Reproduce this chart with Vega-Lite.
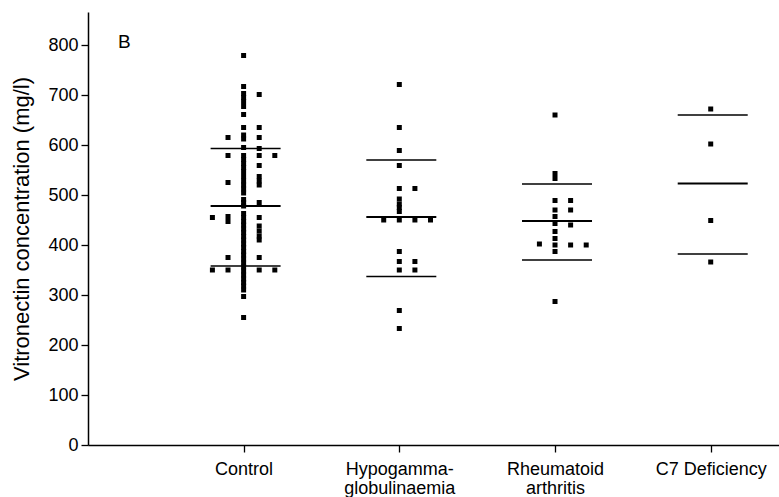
{
  "$schema": "https://vega.github.io/schema/vega-lite/v6.json",
  "width": 691,
  "height": 433,
  "autosize": "none",
  "padding": {"left": 88, "top": 12, "right": 0, "bottom": 52},
  "background": "white",
  "config": {
    "view": {"stroke": null},
    "font": "Liberation Sans",
    "axis": {"domainColor": "black", "tickColor": "black", "labelColor": "black", "titleColor": "black", "domainWidth": 1.5, "tickWidth": 1.3, "grid": false, "labelFont": "Liberation Sans", "titleFont": "Liberation Sans", "titleFontWeight": "normal"}
  },
  "title": {"text": "B", "anchor": "start", "frame": "group", "dx": 30, "offset": -40, "fontSize": 19, "fontWeight": "normal", "color": "black", "font": "Liberation Sans"},
  "datasets": {
    "pts": [
      {"group": "Control", "slot": 0, "value": 779}, {"group": "Control", "slot": 0, "value": 717}, {"group": "Control", "slot": 0, "value": 703}, {"group": "Control", "slot": 0, "value": 695}, {"group": "Control", "slot": 0, "value": 687}, {"group": "Control", "slot": 0, "value": 677}, {"group": "Control", "slot": 0, "value": 661}, {"group": "Control", "slot": 0, "value": 635}, {"group": "Control", "slot": 0, "value": 620}, {"group": "Control", "slot": 0, "value": 612}, {"group": "Control", "slot": 0, "value": 595}, {"group": "Control", "slot": 0, "value": 579}, {"group": "Control", "slot": 0, "value": 571}, {"group": "Control", "slot": 0, "value": 563}, {"group": "Control", "slot": 0, "value": 555}, {"group": "Control", "slot": 0, "value": 547}, {"group": "Control", "slot": 0, "value": 537}, {"group": "Control", "slot": 0, "value": 528}, {"group": "Control", "slot": 0, "value": 520}, {"group": "Control", "slot": 0, "value": 512}, {"group": "Control", "slot": 0, "value": 504}, {"group": "Control", "slot": 0, "value": 491}, {"group": "Control", "slot": 0, "value": 485}, {"group": "Control", "slot": 0, "value": 478}, {"group": "Control", "slot": 0, "value": 463}, {"group": "Control", "slot": 0, "value": 455}, {"group": "Control", "slot": 0, "value": 447}, {"group": "Control", "slot": 0, "value": 440}, {"group": "Control", "slot": 0, "value": 432}, {"group": "Control", "slot": 0, "value": 425}, {"group": "Control", "slot": 0, "value": 417}, {"group": "Control", "slot": 0, "value": 410}, {"group": "Control", "slot": 0, "value": 402}, {"group": "Control", "slot": 0, "value": 395}, {"group": "Control", "slot": 0, "value": 387}, {"group": "Control", "slot": 0, "value": 380}, {"group": "Control", "slot": 0, "value": 372}, {"group": "Control", "slot": 0, "value": 364}, {"group": "Control", "slot": 0, "value": 356}, {"group": "Control", "slot": 0, "value": 348}, {"group": "Control", "slot": 0, "value": 340}, {"group": "Control", "slot": 0, "value": 332}, {"group": "Control", "slot": 0, "value": 325}, {"group": "Control", "slot": 0, "value": 318}, {"group": "Control", "slot": 0, "value": 310}, {"group": "Control", "slot": 0, "value": 297}, {"group": "Control", "slot": 0, "value": 255},
      {"group": "Control", "slot": 1, "value": 701}, {"group": "Control", "slot": 1, "value": 635}, {"group": "Control", "slot": 1, "value": 615}, {"group": "Control", "slot": 1, "value": 593}, {"group": "Control", "slot": 1, "value": 579}, {"group": "Control", "slot": 1, "value": 559}, {"group": "Control", "slot": 1, "value": 537}, {"group": "Control", "slot": 1, "value": 528}, {"group": "Control", "slot": 1, "value": 520}, {"group": "Control", "slot": 1, "value": 485}, {"group": "Control", "slot": 1, "value": 455}, {"group": "Control", "slot": 1, "value": 438}, {"group": "Control", "slot": 1, "value": 428}, {"group": "Control", "slot": 1, "value": 418}, {"group": "Control", "slot": 1, "value": 410}, {"group": "Control", "slot": 1, "value": 375}, {"group": "Control", "slot": 1, "value": 350},
      {"group": "Control", "slot": -1, "value": 615}, {"group": "Control", "slot": -1, "value": 579}, {"group": "Control", "slot": -1, "value": 525}, {"group": "Control", "slot": -1, "value": 457}, {"group": "Control", "slot": -1, "value": 447}, {"group": "Control", "slot": -1, "value": 375}, {"group": "Control", "slot": -1, "value": 350},
      {"group": "Control", "slot": -2, "value": 455}, {"group": "Control", "slot": -2, "value": 350},
      {"group": "Control", "slot": 2, "value": 579}, {"group": "Control", "slot": 2, "value": 350},
      {"group": "Hypogamma-globulinaemia", "slot": 0, "value": 721}, {"group": "Hypogamma-globulinaemia", "slot": 0, "value": 635}, {"group": "Hypogamma-globulinaemia", "slot": 0, "value": 589}, {"group": "Hypogamma-globulinaemia", "slot": 0, "value": 559}, {"group": "Hypogamma-globulinaemia", "slot": 0, "value": 513}, {"group": "Hypogamma-globulinaemia", "slot": 0, "value": 492}, {"group": "Hypogamma-globulinaemia", "slot": 0, "value": 482}, {"group": "Hypogamma-globulinaemia", "slot": 0, "value": 475}, {"group": "Hypogamma-globulinaemia", "slot": 0, "value": 467}, {"group": "Hypogamma-globulinaemia", "slot": 0, "value": 450}, {"group": "Hypogamma-globulinaemia", "slot": 0, "value": 387}, {"group": "Hypogamma-globulinaemia", "slot": 0, "value": 367}, {"group": "Hypogamma-globulinaemia", "slot": 0, "value": 350}, {"group": "Hypogamma-globulinaemia", "slot": 0, "value": 269}, {"group": "Hypogamma-globulinaemia", "slot": 0, "value": 233},
      {"group": "Hypogamma-globulinaemia", "slot": 1, "value": 513}, {"group": "Hypogamma-globulinaemia", "slot": 1, "value": 450}, {"group": "Hypogamma-globulinaemia", "slot": 1, "value": 367}, {"group": "Hypogamma-globulinaemia", "slot": 1, "value": 350},
      {"group": "Hypogamma-globulinaemia", "slot": -1, "value": 450}, {"group": "Hypogamma-globulinaemia", "slot": 2, "value": 450},
      {"group": "Rheumatoid arthritis", "slot": 0, "value": 660}, {"group": "Rheumatoid arthritis", "slot": 0, "value": 543}, {"group": "Rheumatoid arthritis", "slot": 0, "value": 533}, {"group": "Rheumatoid arthritis", "slot": 0, "value": 489}, {"group": "Rheumatoid arthritis", "slot": 0, "value": 470}, {"group": "Rheumatoid arthritis", "slot": 0, "value": 457}, {"group": "Rheumatoid arthritis", "slot": 0, "value": 443}, {"group": "Rheumatoid arthritis", "slot": 0, "value": 427}, {"group": "Rheumatoid arthritis", "slot": 0, "value": 413}, {"group": "Rheumatoid arthritis", "slot": 0, "value": 400}, {"group": "Rheumatoid arthritis", "slot": 0, "value": 387}, {"group": "Rheumatoid arthritis", "slot": 0, "value": 287},
      {"group": "Rheumatoid arthritis", "slot": 1, "value": 489}, {"group": "Rheumatoid arthritis", "slot": 1, "value": 470}, {"group": "Rheumatoid arthritis", "slot": 1, "value": 440}, {"group": "Rheumatoid arthritis", "slot": 1, "value": 400},
      {"group": "Rheumatoid arthritis", "slot": -1, "value": 402}, {"group": "Rheumatoid arthritis", "slot": 2, "value": 400},
      {"group": "C7 Deficiency", "slot": 0, "value": 672}, {"group": "C7 Deficiency", "slot": 0, "value": 602}, {"group": "C7 Deficiency", "slot": 0, "value": 449}, {"group": "C7 Deficiency", "slot": 0, "value": 366}
    ],
    "lines": [
      {"group": "Control", "kind": "sd", "value": 593}, {"group": "Control", "kind": "mean", "value": 478}, {"group": "Control", "kind": "sd", "value": 358},
      {"group": "Hypogamma-globulinaemia", "kind": "sd", "value": 570}, {"group": "Hypogamma-globulinaemia", "kind": "mean", "value": 456}, {"group": "Hypogamma-globulinaemia", "kind": "sd", "value": 337},
      {"group": "Rheumatoid arthritis", "kind": "sd", "value": 522}, {"group": "Rheumatoid arthritis", "kind": "mean", "value": 448}, {"group": "Rheumatoid arthritis", "kind": "sd", "value": 370},
      {"group": "C7 Deficiency", "kind": "sd", "value": 660}, {"group": "C7 Deficiency", "kind": "mean", "value": 523}, {"group": "C7 Deficiency", "kind": "sd", "value": 382}
    ]
  },
  "encoding": {
    "x": {
      "field": "group", "type": "nominal",
      "scale": {"type": "point", "domain": ["Control", "Hypogamma-globulinaemia", "Rheumatoid arthritis", "C7 Deficiency"], "padding": 0.719, "align": 0.695},
      "axis": {"title": null, "labelAngle": 0, "labelFontSize": 18, "labelPadding": 8, "tickSize": 7, "labelLineHeight": 19,
        "labelExpr": "datum.value == 'Hypogamma-globulinaemia' ? ['Hypogamma-', 'globulinaemia'] : datum.value == 'Rheumatoid arthritis' ? ['Rheumatoid', 'arthritis'] : datum.value"}
    },
    "y": {
      "field": "value", "type": "quantitative",
      "scale": {"domain": [0, 866], "nice": false, "zero": true},
      "axis": {"title": "Vitronectin concentration (mg/l)", "titleFontSize": 22, "titlePadding": 14, "labelFontSize": 18, "tickSize": 7, "labelPadding": 3, "values": [0, 100, 200, 300, 400, 500, 600, 700, 800]}
    }
  },
  "layer": [
    {
      "data": {"name": "lines"},
      "transform": [{"filter": "datum.kind == 'sd'"}],
      "mark": {"type": "tick", "color": "black", "size": 70, "thickness": 1.4, "opacity": 1},
      "encoding": {"xOffset": {"value": 2}}
    },
    {
      "data": {"name": "lines"},
      "transform": [{"filter": "datum.kind == 'mean'"}],
      "mark": {"type": "tick", "color": "black", "size": 70, "thickness": 2.2, "opacity": 1},
      "encoding": {"xOffset": {"value": 2}}
    },
    {
      "data": {"name": "pts"},
      "mark": {"type": "point", "shape": "square", "filled": true, "color": "black", "size": 25, "opacity": 1},
      "encoding": {
        "xOffset": {"field": "slot", "type": "quantitative", "scale": {"domain": [-1, 1], "range": [-15.6, 15.6]}}
      }
    }
  ]
}
